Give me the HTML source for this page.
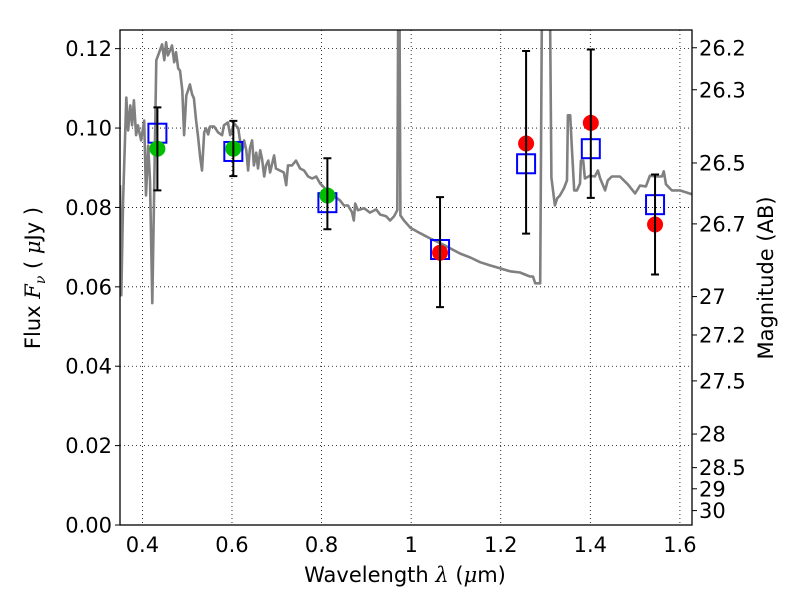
<!DOCTYPE html>
<html><head><meta charset="utf-8"><style>
html,body{margin:0;padding:0;background:#fff;}
svg{display:block;font-family:"DejaVu Sans","Liberation Sans",sans-serif;}
</style></head><body>
<svg id="chart" width="800" height="600" viewBox="0 0 800 600" xmlns="http://www.w3.org/2000/svg">
<defs><clipPath id="plotclip"><rect x="120" y="30" width="572" height="495"/></clipPath></defs>
<g id="grid"></g>
<g id="spectrum" clip-path="url(#plotclip)"></g>
<g id="points"></g>
<rect x="120" y="30" width="572" height="495" fill="none" stroke="#000" stroke-width="1.3"/>
<g id="axes"></g>
<text x="405" y="582" font-size="21" text-anchor="middle">Wavelength  <tspan font-family="DejaVu Serif,serif" font-style="italic">λ</tspan> (<tspan font-family="DejaVu Serif,serif" font-style="italic">μ</tspan>m)</text>
<text transform="translate(40,278) rotate(-90)" font-size="21" text-anchor="middle">Flux  <tspan font-family="DejaVu Serif,serif" font-style="italic">F</tspan><tspan font-family="DejaVu Serif,serif" font-style="italic" font-size="14" dy="5">ν</tspan><tspan dy="-5">  ( </tspan><tspan font-family="DejaVu Serif,serif" font-style="italic">μ</tspan>Jy )</text>
<text transform="translate(773,278) rotate(-90)" font-size="21" text-anchor="middle">Magnitude (AB)</text>
</svg>
<script>
const xTicks=[0.4,0.6,0.8,1.0,1.2,1.4,1.6];
const xTickLabels=["0.4","0.6","0.8","1","1.2","1.4","1.6"];
const yTicks=[0,0.02,0.04,0.06,0.08,0.10,0.12];
const yTickLabels=["0.00","0.02","0.04","0.06","0.08","0.10","0.12"];
const magTicks=[26.2,26.3,26.5,26.7,27,27.2,27.5,28,28.5,29,30];
const magTickLabels=["26.2","26.3","26.5","26.7","27","27.2","27.5","28","28.5","29","30"];
const specWave=[0.350,0.353,0.357,0.364,0.368,0.373,0.377,0.381,0.386,0.390,0.397,0.404,0.408,0.413,0.417,0.422,0.426,0.431,0.435,0.444,0.449,0.453,0.457,0.462,0.466,0.471,0.475,0.480,0.484,0.489,0.493,0.498,0.502,0.506,0.511,0.515,0.520,0.524,0.529,0.533,0.538,0.542,0.547,0.551,0.560,0.569,0.578,0.582,0.591,0.596,0.605,0.614,0.618,0.623,0.627,0.632,0.636,0.640,0.645,0.649,0.654,0.658,0.663,0.667,0.672,0.676,0.681,0.685,0.694,0.698,0.707,0.716,0.721,0.725,0.734,0.743,0.752,0.761,0.770,0.779,0.788,0.797,0.806,0.814,0.823,0.832,0.841,0.850,0.859,0.868,0.872,0.875,0.881,0.895,0.908,0.922,0.931,0.944,0.953,0.962,0.969,0.971,0.974,0.976,0.984,0.998,1.020,1.042,1.065,1.087,1.109,1.132,1.154,1.176,1.198,1.221,1.243,1.265,1.272,1.277,1.288,1.292,1.310,1.313,1.321,1.326,1.332,1.341,1.348,1.350,1.355,1.359,1.364,1.370,1.377,1.379,1.384,1.388,1.399,1.410,1.417,1.422,1.433,1.439,1.448,1.466,1.484,1.500,1.511,1.524,1.533,1.547,1.560,1.564,1.569,1.582,1.600,1.627];
const specFlux=[0.0856,0.0579,0.0818,0.1077,0.0994,0.1057,0.1007,0.1070,0.0982,0.1007,0.0969,0.1019,0.0830,0.0956,0.0868,0.0559,0.0818,0.1171,0.1183,0.1211,0.1171,0.1216,0.1183,0.1196,0.1208,0.1166,0.1191,0.1150,0.1145,0.1095,0.0982,0.1082,0.1095,0.1110,0.1085,0.1075,0.1019,0.0982,0.0926,0.0893,0.0989,0.0999,0.0984,0.1004,0.1004,0.0989,0.0982,0.1007,0.1014,0.0982,0.1012,0.0999,0.0969,0.0944,0.0969,0.0944,0.0893,0.0949,0.0969,0.0906,0.0938,0.0898,0.0944,0.0923,0.0878,0.0906,0.0918,0.0888,0.0931,0.0898,0.0893,0.0888,0.0856,0.0906,0.0906,0.0918,0.0898,0.0893,0.0878,0.0873,0.0878,0.0860,0.0850,0.0830,0.0828,0.0825,0.0818,0.0805,0.0805,0.0788,0.0767,0.0810,0.0793,0.0798,0.0787,0.0795,0.0782,0.0778,0.0767,0.0778,0.0793,0.1300,0.1300,0.0780,0.0767,0.0749,0.0735,0.0722,0.0710,0.0697,0.0684,0.0674,0.0662,0.0654,0.0647,0.0639,0.0636,0.0626,0.0626,0.0609,0.0609,0.1300,0.1300,0.0875,0.0805,0.0823,0.0830,0.0848,0.0868,0.1032,0.1032,0.0944,0.0843,0.0843,0.0860,0.0918,0.0918,0.0873,0.0880,0.0878,0.0893,0.0873,0.0843,0.0868,0.0878,0.0878,0.0858,0.0835,0.0855,0.0853,0.0880,0.0878,0.0878,0.0891,0.0858,0.0843,0.0843,0.0833];
const bandWave=[0.4335,0.603,0.813,1.0645,1.2566,1.4011,1.5445];
const obsFlux=[0.0948,0.0948,0.0830,0.0686,0.0961,0.1013,0.0757];
const modelFlux=[0.0987,0.0941,0.0812,0.0694,0.0910,0.0948,0.0807];
const errLow=[0.0843,0.0879,0.0745,0.0549,0.0734,0.0824,0.0631];
const errHigh=[0.1052,0.1018,0.0924,0.0826,0.1194,0.1198,0.0883];
const detected=[true,true,true,false,false,false,false];

const NS="http://www.w3.org/2000/svg";
const X0=120,X1=692,Y0=525,Y1=30,xMin=0.35,xMax=1.627,yMin=0,yMax=0.1247;
function xs(v){return X0+(v-xMin)/(xMax-xMin)*(X1-X0);}
function ys(v){return Y0-(v-yMin)/(yMax-yMin)*(Y0-Y1);}
function magToFlux(m){return Math.pow(10,(23.9-m)/2.5);}
function mk(tag,attrs,parent){const e=document.createElementNS(NS,tag);for(const k in attrs)e.setAttribute(k,attrs[k]);parent.appendChild(e);return e;}
const grid=document.getElementById('grid'),axes=document.getElementById('axes');
xTicks.forEach((t,i)=>{const x=xs(t);
 const g=mk('line',{x1:x,x2:x,y1:Y1,y2:Y0,stroke:'#000','stroke-width':0.8,'stroke-dasharray':'1,3'},grid);
 
 
 const tx=mk('text',{x:x,y:552,'font-size':21,'text-anchor':'middle'},axes);tx.textContent=xTickLabels[i];
 
 
});
yTicks.forEach((t,i)=>{const y=ys(t);
 const g=mk('line',{x1:X0,x2:X1,y1:y,y2:y,stroke:'#000','stroke-width':0.8,'stroke-dasharray':'1,3'},grid);
 
 
 const tk=mk('line',{x1:X0-5,x2:X0,y1:y,y2:y,stroke:'#000','stroke-width':1},axes);
 
 
 const tx=mk('text',{x:X0-8,y:y+7.5,'font-size':21,'text-anchor':'end'},axes);tx.textContent=yTickLabels[i];
 
 
});
magTicks.forEach((m,i)=>{const y=ys(magToFlux(m));
 const tk=mk('line',{x1:X1,x2:X1+5,y1:y,y2:y,stroke:'#000','stroke-width':1},axes);
 
 
 const tx=mk('text',{x:X1+7,y:y+7.5,'font-size':21},axes);tx.textContent=magTickLabels[i];
 
 
});
const sp=document.getElementById('spectrum');
let d=specWave.map((w,i)=>(i?'L':'M')+xs(w).toFixed(1)+','+ys(specFlux[i]).toFixed(1)).join('');
const pl=mk('path',{d:d,fill:'none',stroke:'#808080','stroke-width':2.6,'stroke-linejoin':'round'},sp);


const pts=document.getElementById('points');
bandWave.forEach((w,i)=>{const x=xs(w);
 const s=mk('rect',{x:x-9,y:ys(modelFlux[i])-9.5,width:18,height:19,fill:'none',stroke:'#0000ff','stroke-width':2},pts);
 
 
 const c=mk('circle',{cx:x,cy:ys(obsFlux[i]),r:8,fill:detected[i]?'#00bf00':'#ff0000'},pts);
 
 
 const yl=ys(errLow[i]),yh=ys(errHigh[i]);
 const e=mk('path',{d:`M${x},${yh}L${x},${yl}M${x-4},${yh}L${x+4},${yh}M${x-4},${yl}L${x+4},${yl}`,stroke:'#000','stroke-width':2,fill:'none'},pts);
 
 
});
</script>
</body></html>
